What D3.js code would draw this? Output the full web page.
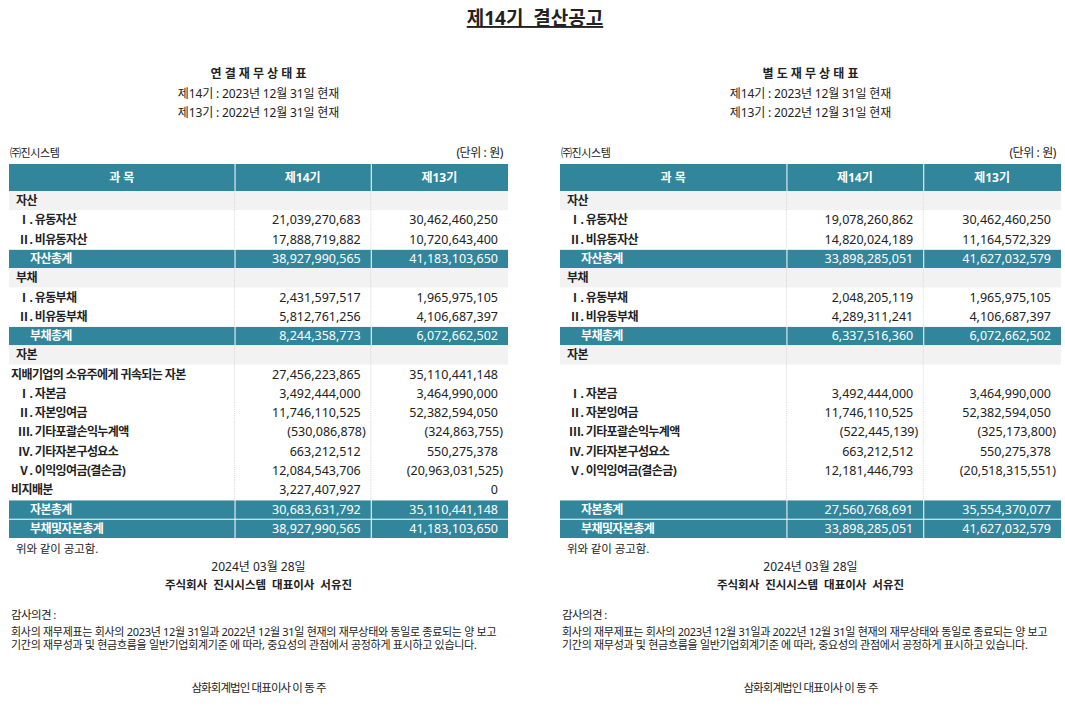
<!DOCTYPE html>
<html>
<head>
<meta charset="utf-8">
<script src="https://cdn.jsdelivr.net/npm/d3@7"></script>
<style>
  body { margin:0; background:#fff; }
  svg text { font-family: "Noto Sans", "Noto Sans CJK KR", sans-serif; fill:#222; }
</style>
</head>
<body>
<svg id="chart" width="1065" height="715"></svg>
<script>
// data
var pageTitle = "제14기  결산공고";
var headings = ["연 결 재 무 상 태 표", "별 도 재 무 상 태 표"];
var periodLines = ["제14기 : 2023년 12월 31일 현재", "제13기 : 2022년 12월 31일 현재"];
var columnHeads = ["과 목", "제14기", "제13기"];

var rowKinds = ["section","item","item","total","section","item","item","total","section","sub","item","item","item","item","item","sub","total","total"];

var consLabels = ["자산","Ⅰ. 유동자산","Ⅱ. 비유동자산","자산총계","부채","Ⅰ. 유동부채","Ⅱ. 비유동부채","부채총계","자본",
  "지배기업의 소유주에게 귀속되는 자본","Ⅰ. 자본금","Ⅱ. 자본잉여금","Ⅲ. 기타포괄손익누계액","Ⅳ. 기타자본구성요소","Ⅴ. 이익잉여금(결손금)","비지배분","자본총계","부채및자본총계"];
var sepLabels = ["자산","Ⅰ. 유동자산","Ⅱ. 비유동자산","자산총계","부채","Ⅰ. 유동부채","Ⅱ. 비유동부채","부채총계","자본",
  "","Ⅰ. 자본금","Ⅱ. 자본잉여금","Ⅲ. 기타포괄손익누계액","Ⅳ. 기타자본구성요소","Ⅴ. 이익잉여금(결손금)","","자본총계","부채및자본총계"];

var cons14 = [null,21039270683,17888719882,38927990565,null,2431597517,5812761256,8244358773,null,
  27456223865,3492444000,11746110525,-530086878,663212512,12084543706,3227407927,30683631792,38927990565];
var cons13 = [null,30462460250,10720643400,41183103650,null,1965975105,4106687397,6072662502,null,
  35110441148,3464990000,52382594050,-324863755,550275378,-20963031525,0,35110441148,41183103650];
var sep14 = [null,19078260862,14820024189,33898285051,null,2048205119,4289311241,6337516360,null,
  null,3492444000,11746110525,-522445139,663212512,12181446793,null,27560768691,33898285051];
var sep13 = [null,30462460250,11164572329,41627032579,null,1965975105,4106687397,6072662502,null,
  null,3464990000,52382594050,-325173800,550275378,-20518315551,null,35554370077,41627032579];

var companyName = "㈜진시스템";
var unitText = "(단위 : 원)";
var noticeText = "위와 같이 공고함.";
var noticeDate = "2024년 03월 28일";
var signer = "주식회사  진시시스템  대표이사  서유진";
var auditTitle = "감사의견 :";
var auditLines = ["회사의 재무제표는 회사의 2023년 12월 31일과 2022년 12월 31일 현재의 재무상태와 동일로 종료되는 양 보고",
  "기간의 재무성과 및 현금흐름을 일반기업회계기준 에 따라, 중요성의 관점에서 공정하게 표시하고 있습니다."];
var auditor = "삼화회계법인 대표이사 이 동 주";

var teal = "#31869b";
var gray = "#f2f2f2";

var svg = d3.select("#chart");

// title
svg.append("text")
  .attr("x", 535).attr("y", 25)
  .attr("text-anchor", "middle")
  .style("font-size", "19px").style("font-weight", "bold")
  .style("text-decoration", "underline").style("white-space", "pre")
  .text(pageTitle);

var fmt = d3.format(",");
function money(v){
  if(v < 0){ return "(" + fmt(-v) + ")"; }
  return fmt(v);
}

var y = d3.scaleBand().domain(d3.range(rowKinds.length)).range([191, 538]);

function drawStatement(x0, width, heading, labels, v14, v13){
    var g = svg.append("g");
    var cx = x0 + width * 0.5;
    var xCol = d3.scaleLinear().domain([0, 1]).range([x0, x0 + width]);
    var edges = [0, 0.452, 0.725, 1].map(xCol);

    g.append("text").attr("x", cx).attr("y", 78).attr("text-anchor", "middle")
      .style("font-size", "12px").style("font-weight", "bold").text(heading);
    periodLines.forEach(function(t, i){
      g.append("text").attr("x", cx).attr("y", 98 + i * 19).attr("text-anchor", "middle")
        .style("font-size", "12px").style("letter-spacing", "-0.15px").text(t);
    });

    g.append("text").attr("x", x0 + 1).attr("y", 157)
      .style("font-size", "11px").style("letter-spacing", "-0.4px").text(companyName);
    g.append("text").attr("x", x0 + width - 5).attr("y", 157).attr("text-anchor", "end")
      .style("font-size", "12px").style("letter-spacing", "-0.4px").text(unitText);

    // header row
    for(var c = 0; c < 3; c++){
        g.append("rect")
          .attr("x", edges[c] + (c > 0 ? 1 : 0)).attr("y", 164)
          .attr("width", edges[c+1] - edges[c] - (c > 0 ? 1 : 0)).attr("height", 27)
          .style("fill", teal);
        g.append("text")
          .attr("x", (edges[c] + edges[c+1]) / 2).attr("y", 182)
          .attr("text-anchor", "middle")
          .style("font-size", "12px").style("font-weight", "bold").style("fill", "#fff")
          .text(columnHeads[c]);
    }

    var bh = y.bandwidth();
    rowKinds.forEach(function(kind, i){
        var top = y(i);
        if(kind == "section"){
            g.append("rect").attr("x", x0).attr("y", top).attr("width", width).attr("height", bh).style("fill", gray);
        }
        if(kind == "total"){
            for(var c = 0; c < 3; c++){
                g.append("rect")
                  .attr("x", edges[c] + (c > 0 ? 1 : 0)).attr("y", top + 1)
                  .attr("width", edges[c+1] - edges[c] - (c > 0 ? 1 : 0)).attr("height", bh - 1)
                  .style("fill", teal);
            }
        }
        else{
            [1, 2].forEach(function(c){
                g.append("line")
                  .attr("x1", edges[c]).attr("x2", edges[c])
                  .attr("y1", top).attr("y2", top + bh)
                  .style("stroke", "#d8d8d8").style("stroke-dasharray", "1,1");
            });
        }

        var indent = {section: 7, item: 9, total: 21, sub: 2}[kind];
        var txtColor = kind == "total" ? "#fff" : "#222";
        g.append("text")
          .attr("x", x0 + indent).attr("y", top + bh / 2 + 4.5)
          .style("font-size", "12px").style("font-weight", "bold")
          .style("letter-spacing", "-0.6px").style("fill", txtColor)
          .text(labels[i]);

        [v14, v13].forEach(function(vals, k){
            var v = vals[i];
            if(v == null) return;
            var right = edges[k + 2] - 10 + (v < 0 ? 5 : 0);
            g.append("text")
              .attr("x", right).attr("y", top + bh / 2 + 4.5)
              .attr("text-anchor", "end")
              .style("font-size", "12.5px").style("fill", txtColor)
              .text(money(v));
        });
    });

    // footer
    g.append("text").attr("x", x0 + 7).attr("y", 553)
      .style("font-size", "11.5px").style("letter-spacing", "-0.1px").text(noticeText);
    g.append("text").attr("x", cx).attr("y", 571).attr("text-anchor", "middle")
      .style("font-size", "12px").style("letter-spacing", "0px").text(noticeDate);
    g.append("text").attr("x", cx).attr("y", 589).attr("text-anchor", "middle")
      .style("font-size", "11.5px").style("font-weight", "bold").style("letter-spacing", "0px")
      .style("white-space", "pre").text(signer);
    g.append("text").attr("x", x0 + 2).attr("y", 619)
      .style("font-size", "11.5px").style("letter-spacing", "-0.6px").text(auditTitle);
    auditLines.forEach(function(t, i){
        g.append("text").attr("x", x0 + 2).attr("y", 636 + i * 13)
          .style("font-size", "11px").style("letter-spacing", "-0.3px").text(t);
    });
    g.append("text").attr("x", cx).attr("y", 692).attr("text-anchor", "middle")
      .style("font-size", "11.5px").style("letter-spacing", "-0.9px").text(auditor);
}

drawStatement(9, 499, headings[0], consLabels, cons14, cons13);
drawStatement(560, 501, headings[1], sepLabels, sep14, sep13);
</script>
</body>
</html>
